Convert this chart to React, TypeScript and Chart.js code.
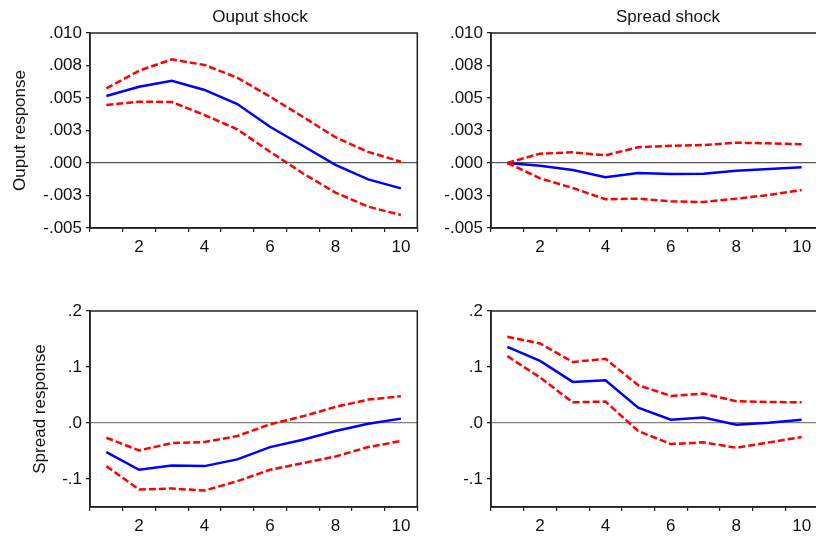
import React, { useEffect, useRef } from 'react';
import { Chart, registerables } from 'chart.js';

Chart.register(...registerables);

// ---------- data ----------
const periods = ['1', '2', '3', '4', '5', '6', '7', '8', '9', '10'];
const shownPeriods = ['2', '4', '6', '8', '10'];

const outputTickValues = [-0.005, -0.0025, 0, 0.0025, 0.005, 0.0075, 0.01];
const outputTickLabels = ['-.005', '-.003', '.000', '.003', '.005', '.008', '.010'];
const spreadTickValues = [-0.1, 0, 0.1, 0.2];
const spreadTickLabels = ['-.1', '.0', '.1', '.2'];

// Output response to output shock
const outOutResp = [0.00515, 0.00587, 0.00633, 0.00562, 0.00454, 0.00279, 0.00133, -0.00015, -0.00126, -0.00195];
const outOutUpper = [0.00574, 0.0071, 0.00797, 0.00754, 0.00656, 0.0051, 0.00356, 0.00198, 0.00085, 0.0001];
const outOutLower = [0.00446, 0.00472, 0.00469, 0.00369, 0.00259, 0.00087, -0.00079, -0.00228, -0.00336, -0.004];

// Output response to spread shock
const outSprResp = [0, -0.00021, -0.00054, -0.0011, -0.00077, -0.00085, -0.00082, -0.00059, -0.00046, -0.00033];
const outSprUpper = [0, 0.00072, 0.00082, 0.00059, 0.00121, 0.00133, 0.00138, 0.00156, 0.00151, 0.00144];
const outSprLower = [0, -0.00118, -0.00192, -0.00279, -0.00274, -0.00295, -0.003, -0.00274, -0.00246, -0.00208];

// Spread response to output shock
const sprOutResp = [-0.052, -0.0836, -0.0758, -0.077, -0.065, -0.043, -0.0299, -0.0143, -0.0012, 0.0078];
const sprOutUpper = [-0.0263, -0.049, -0.0358, -0.034, -0.0233, -0.0024, 0.0119, 0.0287, 0.0418, 0.0478];
const sprOutLower = [-0.077, -0.1188, -0.117, -0.1206, -0.1039, -0.0836, -0.0716, -0.0597, -0.043, -0.0322];

// Spread response to spread shock
const sprSprResp = [0.1361, 0.111, 0.0734, 0.0764, 0.0275, 0.006, 0.0096, -0.003, 0.0006, 0.006];
const sprSprUpper = [0.154, 0.142, 0.109, 0.1146, 0.0675, 0.0484, 0.0525, 0.0388, 0.0376, 0.037];
const sprSprLower = [0.1194, 0.0812, 0.037, 0.0382, -0.0143, -0.0376, -0.0346, -0.0442, -0.0346, -0.0251];

// ---------- styling ----------
const FONT_FAMILY = '"Liberation Sans", Arial, Helvetica, sans-serif';
const FONT_SIZE = 17;
const AXIS_COLOR = '#222222';
const TEXT_COLOR = '#111111';

const panelTitlePlugin = {
  id: 'panelTitle',
  afterDraw(chart: any, _args: any, opts: any) {
    if (!opts || !opts.text) return;
    const ctx = chart.ctx;
    ctx.save();
    ctx.font = `${FONT_SIZE}px ${FONT_FAMILY}`;
    ctx.fillStyle = TEXT_COLOR;
    ctx.textAlign = 'center';
    ctx.textBaseline = 'alphabetic';
    ctx.fillText(opts.text, opts.x, chart.chartArea.top - 11);
    ctx.restore();
  },
};

const boxPlugin = {
  id: 'boxFrame',
  afterDraw(chart: any) {
    const { left, top, right, bottom } = chart.chartArea;
    const ctx = chart.ctx;
    ctx.save();
    ctx.strokeStyle = AXIS_COLOR;
    ctx.lineWidth = 1.5;
    ctx.strokeRect(left, top, right - left, bottom - top);
    ctx.restore();
  },
};

type PanelProps = {
  left: number;
  top: number;
  width: number;
  height: number;
  padding: { left: number; top: number; right: number; bottom: number };
  yAxisWidth: number;
  title?: string;
  titleX?: number;
  yTitle?: string;
  yMin: number;
  yMax: number;
  tickValues: number[];
  tickLabels: string[];
  resp: number[];
  upper: number[];
  lower: number[];
  zeroColor: string;
};

function Panel(p: PanelProps) {
  const ref = useRef<HTMLCanvasElement | null>(null);

  useEffect(() => {
    if (!ref.current) return;
    const font = { family: FONT_FAMILY, size: FONT_SIZE };
    const chart = new Chart(ref.current, {
      type: 'line',
      data: {
        labels: periods,
        datasets: [
          {
            data: p.upper,
            borderColor: '#ff0000',
            borderWidth: 2.5,
            borderDash: [7, 3],
            pointRadius: 0,
            tension: 0,
            fill: false,
          },
          {
            data: p.lower,
            borderColor: '#ff0000',
            borderWidth: 2.5,
            borderDash: [7, 3],
            pointRadius: 0,
            tension: 0,
            fill: false,
          },
          {
            data: p.resp,
            borderColor: '#0000ff',
            borderWidth: 2.5,
            pointRadius: 0,
            tension: 0,
            fill: false,
          },
        ],
      },
      options: {
        animation: false,
        responsive: false,
        devicePixelRatio: 1,
        layout: { padding: p.padding },
        plugins: {
          legend: { display: false },
          tooltip: { enabled: false },
          title: { display: false },
          panelTitle: { text: p.title, x: p.titleX },
        } as any,
        scales: {
          x: {
            type: 'category',
            offset: true,
            afterFit: (scale: any) => {
              scale.height = 30;
            },
            grid: {
              offset: true,
              drawOnChartArea: false,
              drawTicks: true,
              tickLength: 4,
              color: AXIS_COLOR,
              lineWidth: 1.2,
            },
            border: { display: true, color: AXIS_COLOR, width: 1.5 },
            ticks: {
              autoSkip: false,
              maxRotation: 0,
              minRotation: 0,
              padding: 5,
              color: TEXT_COLOR,
              font,
              callback: (_v: any, i: number) =>
                shownPeriods.includes(periods[i]) ? periods[i] : '',
            },
          },
          y: {
            type: 'linear',
            min: p.yMin,
            max: p.yMax,
            afterBuildTicks: (scale: any) => {
              scale.ticks = p.tickValues.map((v) => ({ value: v }));
            },
            afterFit: (scale: any) => {
              scale.width = p.yAxisWidth;
            },
            grid: {
              drawOnChartArea: true,
              drawTicks: true,
              tickLength: 4,
              color: (ctx: any) =>
                ctx.tick && ctx.tick.value === 0 ? p.zeroColor : 'rgba(0,0,0,0)',
              tickColor: AXIS_COLOR,
              lineWidth: 1.3,
            },
            border: { display: true, color: AXIS_COLOR, width: 1.5 },
            title: {
              display: !!p.yTitle,
              text: p.yTitle || '',
              color: TEXT_COLOR,
              font,
              padding: 0,
            },
            ticks: {
              padding: 4,
              color: TEXT_COLOR,
              font,
              callback: (v: any) => {
                const idx = p.tickValues.findIndex((t) => Math.abs(t - Number(v)) < 1e-9);
                return idx >= 0 ? p.tickLabels[idx] : '';
              },
            },
          },
        },
      } as any,
      plugins: [panelTitlePlugin, boxPlugin],
    });
    return () => chart.destroy();
  }, []);

  return (
    <canvas
      ref={ref}
      width={p.width}
      height={p.height}
      style={{
        position: 'absolute',
        left: p.left,
        top: p.top,
        width: p.width,
        height: p.height,
      }}
    />
  );
}

export default function App() {
  return (
    <div
      style={{
        position: 'fixed',
        left: 0,
        top: 0,
        width: 816,
        height: 537,
        overflow: 'hidden',
        background: '#ffffff',
      }}
    >
      <Panel
        left={0}
        top={0}
        width={440}
        height={270}
        padding={{ left: 9.8, top: 33, right: 22.7, bottom: 12 }}
        yAxisWidth={80.2}
        title="Ouput shock"
        titleX={260}
        yTitle="Ouput response"
        yMin={-0.005}
        yMax={0.01}
        tickValues={outputTickValues}
        tickLabels={outputTickLabels}
        resp={outOutResp}
        upper={outOutUpper}
        lower={outOutLower}
        zeroColor="#5a5a5a"
      />
      <Panel
        left={420}
        top={0}
        width={440}
        height={270}
        padding={{ left: 0, top: 33, right: 42, bottom: 12 }}
        yAxisWidth={71}
        title="Spread shock"
        titleX={248}
        yMin={-0.005}
        yMax={0.01}
        tickValues={outputTickValues}
        tickLabels={outputTickLabels}
        resp={outSprResp}
        upper={outSprUpper}
        lower={outSprLower}
        zeroColor="#5a5a5a"
      />
      <Panel
        left={0}
        top={270}
        width={440}
        height={267}
        padding={{ left: 29.8, top: 41, right: 22.7, bottom: 0 }}
        yAxisWidth={60.2}
        yTitle="Spread response"
        yMin={-0.15}
        yMax={0.2}
        tickValues={spreadTickValues}
        tickLabels={spreadTickLabels}
        resp={sprOutResp}
        upper={sprOutUpper}
        lower={sprOutLower}
        zeroColor="#808080"
      />
      <Panel
        left={420}
        top={270}
        width={440}
        height={267}
        padding={{ left: 0, top: 41, right: 42, bottom: 0 }}
        yAxisWidth={71}
        yMin={-0.15}
        yMax={0.2}
        tickValues={spreadTickValues}
        tickLabels={spreadTickLabels}
        resp={sprSprResp}
        upper={sprSprUpper}
        lower={sprSprLower}
        zeroColor="#808080"
      />
    </div>
  );
}
